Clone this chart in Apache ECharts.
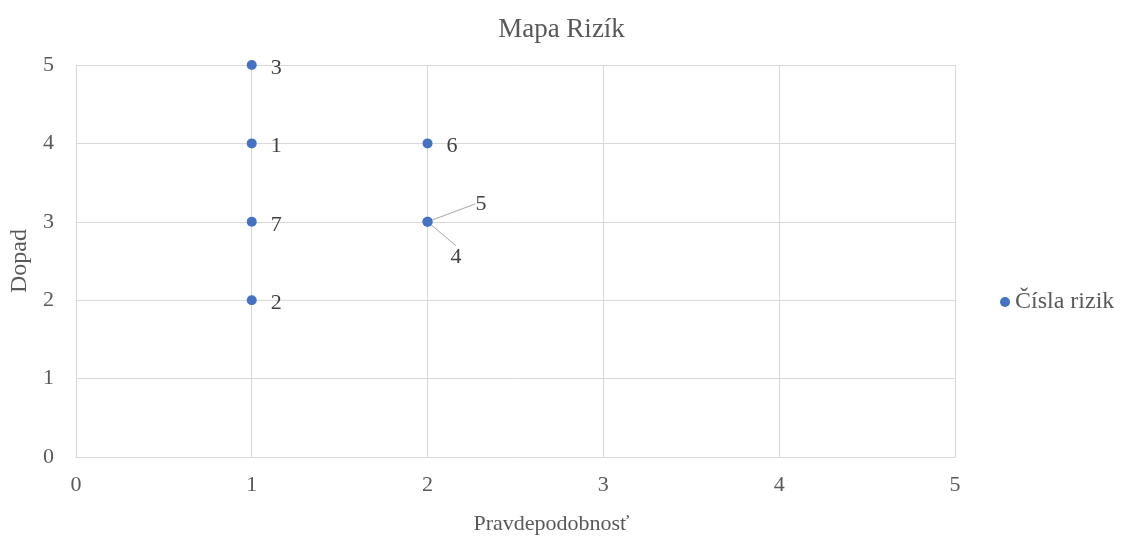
<!DOCTYPE html>
<html>
<head>
<meta charset="utf-8">
<script src="https://cdn.jsdelivr.net/npm/echarts@6/dist/echarts.min.js"></script>
<style>html,body{margin:0;padding:0;background:#fff}#c{width:1123px;height:547px}</style>
</head>
<body>
<div id="c"></div>
<script>
var chartTitle = 'Mapa Rizík';
var seriesName = 'Čísla rizik';
var xName = 'Pravdepodobnosť';
var yName = 'Dopad';
var riskIds = ['1', '2', '3', '4', '5', '6', '7'];
var probability = [1, 1, 1, 2, 2, 2, 1];
var impact = [4, 2, 5, 3, 3, 4, 3];

var shifted = { '5': [29, -18], '4': [4, 35] };
var data = riskIds.map(function (id, i) {
  var d = { value: [probability[i], impact[i]], name: id };
  if (shifted[id]) d.labelLine = { show: true };
  return d;
});

var font = 'Liberation Serif';
var grey = '#595959';
var chart = echarts.init(document.getElementById('c'));
chart.setOption({
  backgroundColor: '#fff',
  animation: false,
  title: { text: chartTitle, left: 'center', top: 11, textStyle: { fontFamily: font, fontSize: 27, fontWeight: 'normal', color: grey } },
  legend: { data: [seriesName], left: 995, top: 285, icon: 'circle', itemWidth: 10, itemHeight: 10, itemGap: 4,
    textStyle: { fontFamily: font, fontSize: 24, color: grey } },
  grid: { left: 75, right: 168, top: 65, bottom: 90 },
  xAxis: { type: 'value', min: 0, max: 5, interval: 1, name: xName, nameLocation: 'middle', nameGap: 56,
    nameTextStyle: { fontFamily: font, fontSize: 22, color: grey, padding: [0, 0, 0, 72] },
    axisLine: { show: true, lineStyle: { color: '#d9d9d9' } }, axisTick: { show: false },
    axisLabel: { fontFamily: font, fontSize: 22, color: grey, margin: 17 },
    splitLine: { show: true, lineStyle: { color: '#d9d9d9' } } },
  yAxis: { type: 'value', min: 0, max: 5, interval: 1, name: yName, nameLocation: 'middle', nameGap: 40,
    nameTextStyle: { fontFamily: font, fontSize: 24, color: grey },
    axisLine: { show: true, lineStyle: { color: '#d9d9d9' } }, axisTick: { show: false },
    axisLabel: { fontFamily: font, fontSize: 22, color: grey, margin: 22, padding: [5, 0, 0, 0] },
    splitLine: { show: true, lineStyle: { color: '#d9d9d9' } } },
  series: [{
    name: seriesName, type: 'scatter', symbol: 'circle', symbolSize: 10,
    itemStyle: { color: '#4472C4', opacity: 1 },
    data: data,
    label: { show: true, position: 'right', distance: 14, formatter: '{b}',
      fontFamily: font, fontSize: 22, color: '#404040' },
    labelLine: { show: false, lineStyle: { color: '#a6a6a6', width: 1 } },
    labelLayout: function (p) {
      var s = shifted[p.text];
      if (s) return { dx: s[0], dy: s[1] };
      return { dy: 3 };
    }
  }]
});
</script>
</body>
</html>
